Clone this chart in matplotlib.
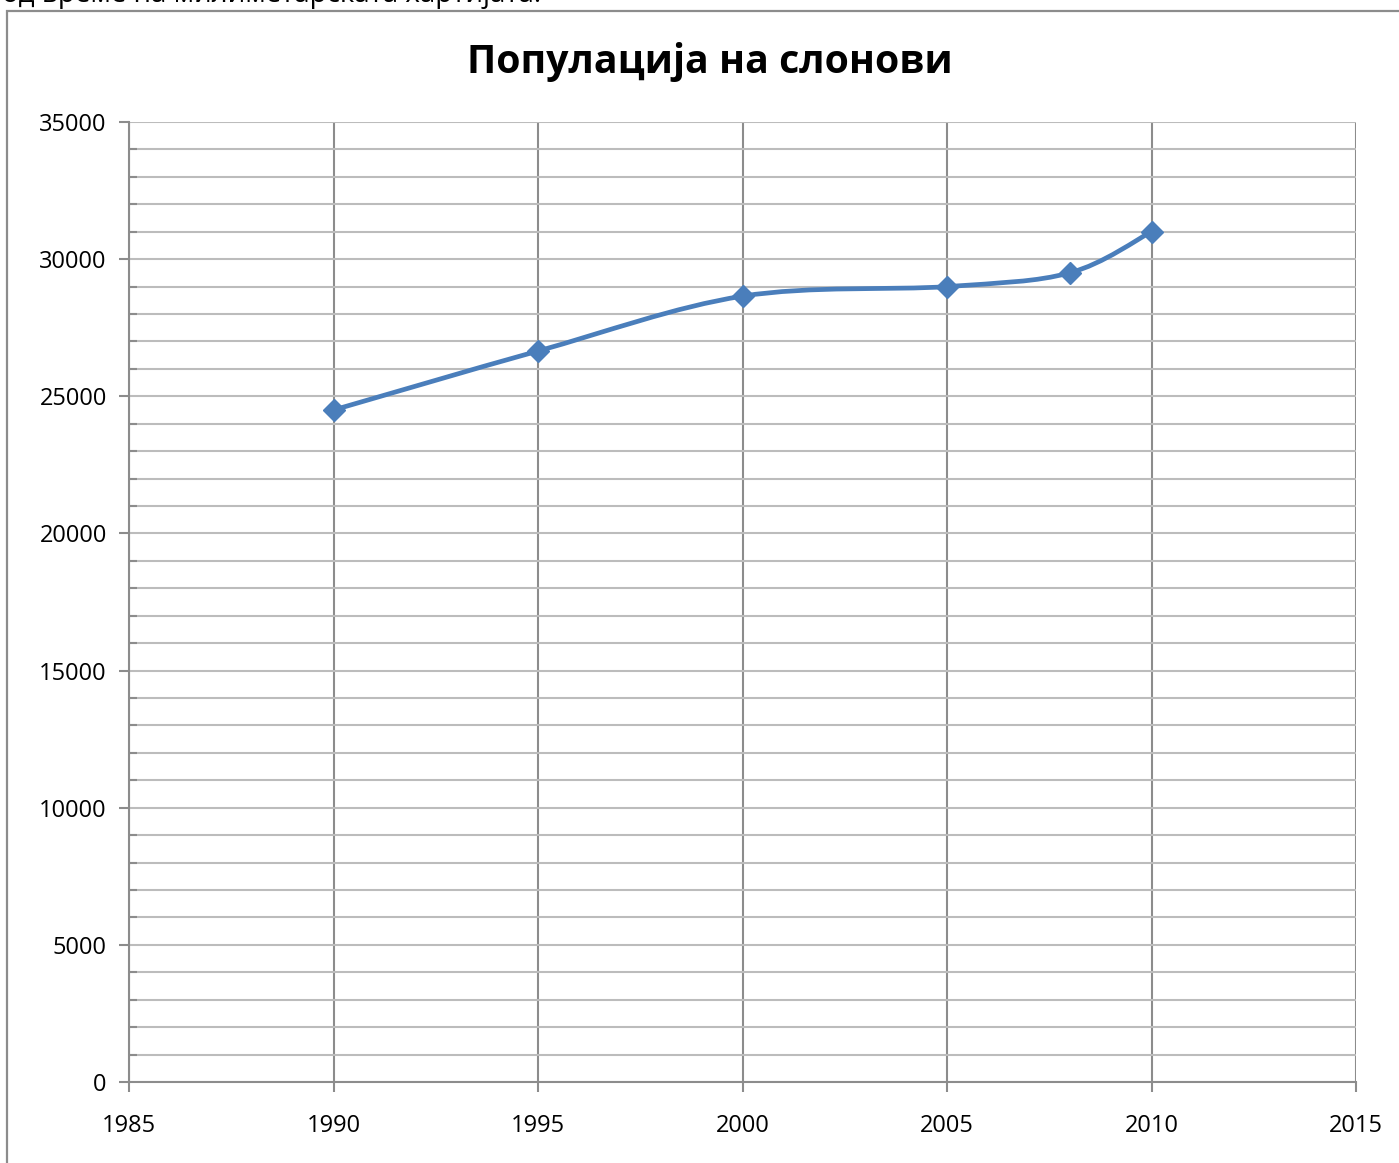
import matplotlib
matplotlib.use("Agg")
import matplotlib.pyplot as plt
from matplotlib.path import Path
from matplotlib.patches import PathPatch, Rectangle
import numpy as np

plt.rcParams['font.family'] = ['Open Sans', 'DejaVu Sans']

# Data
years = [1990, 1995, 2000, 2005, 2008, 2010]
population = [24500, 26650, 28650, 29000, 29500, 31000]
title = "Популација на слонови"
top_text = "од време на милиметарската хартијата."
x_ticks = [1985, 1990, 1995, 2000, 2005, 2010, 2015]
y_ticks = [0, 5000, 10000, 15000, 20000, 25000, 30000, 35000]

line_color = "#4a7ebb"

fig = plt.figure(figsize=(13.99, 11.63), dpi=100)
fig.patch.set_facecolor("white")

# Chart frame (partially off-canvas)
fig.patches.append(Rectangle((7 / 1399, -0.1), 1.2, 1 - 11 / 1163 + 0.1,
                             transform=fig.transFigure, fill=False,
                             edgecolor="#8c8c8c", linewidth=1.6, zorder=0))
fig.text(2 / 1399, 1 - 2 / 1163, top_text, fontsize=20, va='baseline',
         ha='left', color='black')

ax = fig.add_axes([129 / 1399, 1 - 1082 / 1163, (1356 - 129) / 1399,
                   (1082 - 122) / 1163])
ax.set_xlim(1985, 2015)
ax.set_ylim(0, 35000)

ax.set_xticks(x_ticks)
ax.set_yticks(y_ticks)
ax.set_yticks(np.arange(0, 35001, 1000), minor=True)
ax.tick_params(axis='both', which='major', direction='out', length=7,
               width=1.5, color='#8c8c8c', labelsize=17, pad=9)
ax.tick_params(axis='y', which='minor', direction='in', length=6,
               width=1.5, color='#8c8c8c')
ax.tick_params(axis='x', pad=16)

ax.yaxis.grid(True, which='both', color='#bcbcbc', linewidth=1.5)
ax.xaxis.grid(True, which='major', color='#8c8c8c', linewidth=1.5)
ax.set_axisbelow(True)
for side in ['top', 'right']:
    ax.spines[side].set_visible(False)
for side in ['left', 'bottom']:
    ax.spines[side].set_color('#8c8c8c')
    ax.spines[side].set_linewidth(1.5)

# Smoothed line (Excel-style Bezier through the data points)
pts = np.column_stack([years, population]).astype(float)
verts = [pts[0]]
codes = [Path.MOVETO]
n = len(pts)
for i in range(n - 1):
    p0 = pts[i - 1] if i > 0 else pts[i]
    p1 = pts[i]
    p2 = pts[i + 1]
    p3 = pts[i + 2] if i + 2 < n else pts[i + 1]
    c1 = p1 + (p2 - p0) / 6.0
    c2 = p2 - (p3 - p1) / 6.0
    verts += [c1, c2, p2]
    codes += [Path.CURVE4] * 3
path = Path(verts, codes)
ax.add_patch(PathPatch(path, facecolor='none', edgecolor=line_color,
                       linewidth=3.4, capstyle='round', joinstyle='round',
                       zorder=3))
ax.plot(years, population, linestyle='none', marker='D', markersize=11.5,
        color=line_color, zorder=4)

fig.text(710 / 1399, 1 - 62 / 1163, title, fontsize=28.3, fontweight='bold',
         ha='center', va='center')

fig.savefig("out.png", dpi=100)
